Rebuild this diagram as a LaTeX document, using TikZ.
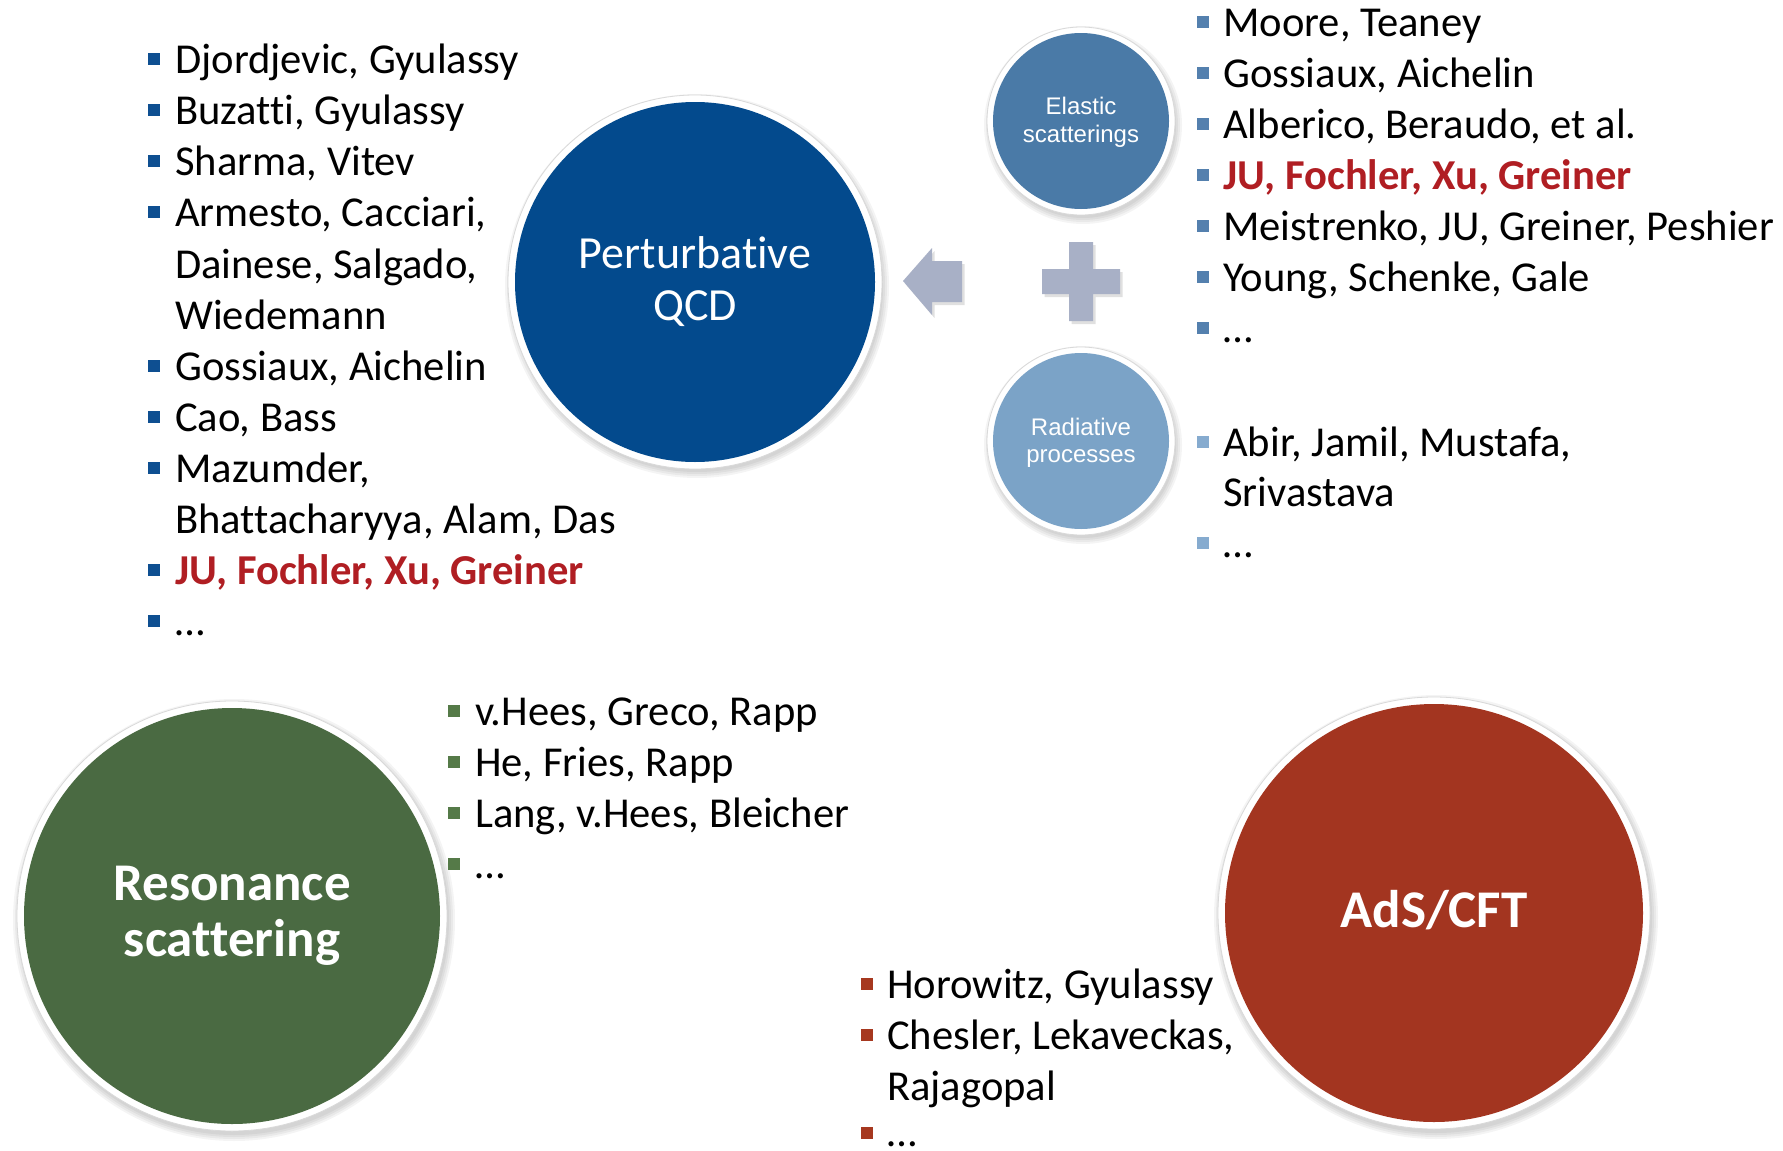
\documentclass[tikz,border=0pt]{standalone}
\usepackage{fontspec}
\setmainfont{Carlito}[Ligatures=NoCommon]
\newfontfamily\arialf{Liberation Sans}
\definecolor{qcdblue}{HTML}{034A8D}
\definecolor{elblue}{HTML}{4A7AA7}
\definecolor{radblue}{HTML}{7BA3C7}
\definecolor{resgreen}{HTML}{4A6A42}
\definecolor{adsred}{HTML}{A33520}
\definecolor{jured}{HTML}{B01E23}
\definecolor{qcdbul}{HTML}{0E4F91}
\definecolor{elbul}{HTML}{5480AE}
\definecolor{radbul}{HTML}{86ABCF}
\definecolor{grbul}{HTML}{557A48}
\definecolor{redbul}{HTML}{A6381F}
\definecolor{shapegray}{HTML}{A8B0C6}
\begin{document}
\begin{tikzpicture}[x=1pt,y=-1pt,
  bsq/.style={rectangle, inner sep=0pt, minimum size=12pt, fill=#1},
  item/.style={anchor=base west, inner sep=0pt, text=black, font=\fontsize{42.6}{51}\selectfont},
  reditem/.style={anchor=base west, inner sep=0pt, text=jured, font=\fontsize{42.6}{51}\selectfont\bfseries},
  ring/.style={circle, inner sep=0pt, fill=white, draw=black!15, line width=0.8pt},
  disc/.style={circle, inner sep=0pt},
  shd/.style={fill=black, opacity=0.045},
  bigtxt/.style={anchor=base, inner sep=0pt, text=white, font=\fontsize{46}{52}\selectfont},
  boldtxt/.style={anchor=base, inner sep=0pt, text=white, font=\fontsize{53}{56}\selectfont\bfseries},
  smalltxt/.style={anchor=base, inner sep=0pt, text=white, font=\arialf\fontsize{24}{28}\selectfont}
]
\useasboundingbox[fill=white] (0,0) rectangle (1783,1151);

% ---------- circles ----------
% Perturbative QCD
\foreach \d in {12,10,8,6} \fill[shd] (697,286) circle (180pt+\d pt);
\node[ring, minimum size=374pt] (qcdring) at (695,282) {};
\node[disc, fill=qcdblue, minimum size=360pt] (qcd) at (695,282) {};
\node[bigtxt] (qcdt1) at (695,268) {Perturbative};
\node[bigtxt] (qcdt2) at (695,320) {QCD};

% Elastic scatterings
\foreach \d in {11,9,7,5} \fill[shd] (1083,125) circle (88pt+\d pt);
\node[ring, minimum size=188pt] (elring) at (1081,121) {};
\node[disc, fill=elblue, minimum size=176pt] (elastic) at (1081,121) {};
\node[smalltxt] (elt1) at (1081,114) {Elastic};
\node[smalltxt] (elt2) at (1081,142) {scatterings};

% Radiative processes
\foreach \d in {11,9,7,5} \fill[shd] (1083,445) circle (88pt+\d pt);
\node[ring, minimum size=188pt] (radring) at (1081,441) {};
\node[disc, fill=radblue, minimum size=176pt] (radiative) at (1081,441) {};
\node[smalltxt] (radt1) at (1081,435) {Radiative};
\node[smalltxt] (radt2) at (1081,462) {processes};

% Resonance scattering
\foreach \d in {13,11,9,7} \fill[shd] (234,920) circle (208pt+\d pt);
\node[ring, minimum size=430pt] (resring) at (232,916) {};
\node[disc, fill=resgreen, minimum size=416pt] (reson) at (232,916) {};
\node[boldtxt] (rest1) at (232,900) {Resonance};
\node[boldtxt] (rest2) at (232,956) {scattering};

% AdS/CFT
\foreach \d in {13,11,9,7} \fill[shd] (1436,917) circle (209pt+\d pt);
\node[ring, minimum size=432pt] (adsring) at (1434,913) {};
\node[disc, fill=adsred, minimum size=418pt] (ads) at (1434,913) {};
\node[boldtxt] (adst) at (1434,927) {AdS/CFT};

% ---------- block arrow and plus ----------
\fill[black, opacity=0.12] (905.5,284) -- (934.5,251) -- (934.5,264) -- (964.5,264) -- (964.5,305) -- (934.5,305) -- (934.5,318) -- cycle;
\fill[shapegray] (903,281) -- (932,248) -- (932,261) -- (962,261) -- (962,302) -- (932,302) -- (932,315) -- cycle;
\fill[black, opacity=0.12] (1071.5,245) -- (1095.5,245) -- (1095.5,272) -- (1122.5,272) -- (1122.5,297) -- (1095.5,297) -- (1095.5,324) -- (1071.5,324) -- (1071.5,297) -- (1044.5,297) -- (1044.5,272) -- (1071.5,272) -- cycle;
\fill[shapegray] (1069,242) -- (1093,242) -- (1093,269) -- (1120,269) -- (1120,294) -- (1093,294) -- (1093,321) -- (1069,321) -- (1069,294) -- (1042,294) -- (1042,269) -- (1069,269) -- cycle;

% ---------- left list (pQCD) ----------
\node[bsq=qcdbul] (lb1) at (154,59) {};
\node[item] (l1) at (175,73) {Djordjevic, Gyulassy};
\node[bsq=qcdbul] (lb2) at (154,110) {};
\node[item] (l2) at (175,124) {Buzatti, Gyulassy};
\node[bsq=qcdbul] (lb3) at (154,161) {};
\node[item] (l3) at (175,175) {Sharma, Vitev};
\node[bsq=qcdbul] (lb4) at (154,212) {};
\node[item] (l4) at (175,226) {Armesto, Cacciari,};
\node[item] (l5) at (175,278) {Dainese, Salgado,};
\node[item] (l6) at (175,329) {Wiedemann};
\node[bsq=qcdbul] (lb7) at (154,366) {};
\node[item] (l7) at (175,380) {Gossiaux, Aichelin};
\node[bsq=qcdbul] (lb8) at (154,417) {};
\node[item] (l8) at (175,431) {Cao, Bass};
\node[bsq=qcdbul] (lb9) at (154,468) {};
\node[item] (l9) at (175,482) {Mazumder,};
\node[item] (l10) at (175,533) {Bhattacharyya, Alam, Das};
\node[bsq=qcdbul] (lb11) at (154,570) {};
\node[reditem] (l11) at (175,584) {JU, Fochler, Xu, Greiner};
\node[bsq=qcdbul] (lb12) at (154,621) {};
\node[item] (l12) at (175,635) {…};

% ---------- elastic list ----------
\node[bsq=elbul] (eb1) at (1203,22) {};
\node[item] (e1) at (1223,36) {Moore, Teaney};
\node[bsq=elbul] (eb2) at (1203,73) {};
\node[item] (e2) at (1223,87) {Gossiaux, Aichelin};
\node[bsq=elbul] (eb3) at (1203,124) {};
\node[item] (e3) at (1223,138) {Alberico, Beraudo, et al.};
\node[bsq=elbul] (eb4) at (1203,175) {};
\node[reditem] (e4) at (1223,189) {JU, Fochler, Xu, Greiner};
\node[bsq=elbul] (eb5) at (1203,226) {};
\node[item] (e5) at (1223,240) {Meistrenko, JU, Greiner, Peshier};
\node[bsq=elbul] (eb6) at (1203,277) {};
\node[item] (e6) at (1223,291) {Young, Schenke, Gale};
\node[bsq=elbul] (eb7) at (1203,328) {};
\node[item] (e7) at (1223,342) {…};

% ---------- radiative list ----------
\node[bsq=radbul] (rb1) at (1203,442) {};
\node[item] (r1) at (1223,456) {Abir, Jamil, Mustafa,};
\node[item] (r2) at (1223,506) {Srivastava};
\node[bsq=radbul] (rb3) at (1203,543) {};
\node[item] (r3) at (1223,557) {…};

% ---------- resonance list ----------
\node[bsq=grbul] (gb1) at (454,711) {};
\node[item] (g1) at (475,725) {v.Hees, Greco, Rapp};
\node[bsq=grbul] (gb2) at (454,762) {};
\node[item] (g2) at (475,776) {He, Fries, Rapp};
\node[bsq=grbul] (gb3) at (454,813) {};
\node[item] (g3) at (475,827) {Lang, v.Hees, Bleicher};
\node[bsq=grbul] (gb4) at (454,864) {};
\node[item] (g4) at (475,878) {…};

% ---------- AdS list ----------
\node[bsq=redbul] (ab1) at (867,984) {};
\node[item] (a1) at (887,998) {Horowitz, Gyulassy};
\node[bsq=redbul] (ab2) at (867,1035) {};
\node[item] (a2) at (887,1049) {Chesler, Lekaveckas,};
\node[item] (a3) at (887,1100) {Rajagopal};
\node[bsq=redbul] (ab4) at (867,1133) {};
\node[item] (a4) at (887,1146) {…};
\end{tikzpicture}
\end{document}
